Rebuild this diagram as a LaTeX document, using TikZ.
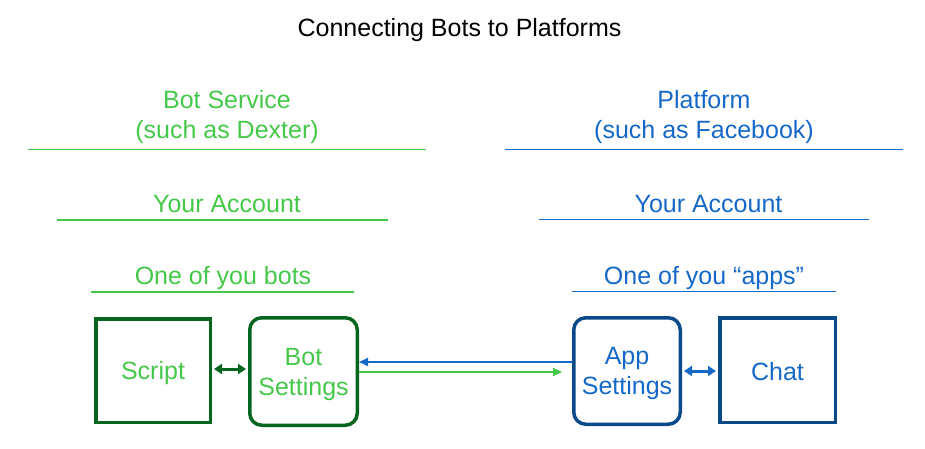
\documentclass[tikz,border=0pt]{standalone}
\usepackage{fontspec}
\setmainfont{Liberation Sans}
\usetikzlibrary{arrows.meta}
\definecolor{lgreen}{HTML}{45C84A}
\definecolor{dgreen}{HTML}{06661F}
\definecolor{lblue}{HTML}{1668C8}
\definecolor{dblue}{HTML}{0B4A88}
\begin{document}
\begin{tikzpicture}[x=1pt,y=-1pt,
  txt/.style={font=\fontsize{25}{30}\selectfont, inner sep=0pt, anchor=base, align=center},
  sqbox/.style={draw, line width=3.5pt, inner sep=0pt, font=\fontsize{25}{30}\selectfont, align=center},
  rbox/.style={sqbox, rounded corners=12pt},
  rule/.style={line width=1.2pt},
  thin/.style={line width=2pt, -{Triangle[length=9pt,width=8pt]}},
  thick/.style={line width=3pt, {Triangle[length=8pt,width=10pt]}-{Triangle[length=8pt,width=10pt]}, shorten <=2pt, shorten >=2pt}
]
\useasboundingbox (0,0) rectangle (925,449);
\node[txt] (title) at (459.5,36.5) {Connecting Bots to Platforms};
% left
\node[txt, text=lgreen] (bs1) at (227,109) {Bot Service};
\node[txt, text=lgreen] (bs2) at (227,139) {(such as Dexter)};
\node[txt, text=lgreen] (ya1) at (227,212.5) {Your Account};
\node[txt, text=lgreen] (ob1) at (223,284) {One of you bots};
\draw[rule, lgreen] (28,149.3) -- (426,149.3);
\draw[rule, lgreen] (57,220) -- (388,220);
\draw[rule, lgreen] (91,292) -- (354,292);
% right
\node[txt, text=lblue] (pf1) at (704,109) {Platform};
\node[txt, text=lblue] (pf2) at (704,139) {(such as Facebook)};
\node[txt, text=lblue] (ya2) at (708.5,212) {Your Account};
\node[txt, text=lblue] (ob2) at (704,284) {One of you “apps”};
\draw[rule, lblue] (505,149.3) -- (903,149.3);
\draw[rule, lblue] (539,219.5) -- (869,219.5);
\draw[rule, lblue] (572,291.5) -- (836,291.5);
% boxes
\node[sqbox, draw=dgreen, text=lgreen, minimum width=114.5pt, minimum height=103.5pt] (script) at (153,370.5) {\rule{0pt}{24pt}Script};
\node[rbox, draw=dgreen, text=lgreen, minimum width=107.5pt, minimum height=107.5pt] (bot) at (303.5,371.5) {\rule{0pt}{24pt}Bot\\Settings};
\node[rbox, draw=dblue, text=lblue, minimum width=106.5pt, minimum height=106.5pt] (app) at (627,371) {\rule{0pt}{22pt}App\\Settings};
\node[sqbox, draw=dblue, text=lblue, minimum width=115.5pt, minimum height=104.5pt] (chat) at (777.5,370) {\rule{0pt}{22pt}Chat};
% connectors
\draw[thick, dgreen] (script.east |- 0,369) -- (bot.west |- 0,369);
\draw[thick, lblue] (app.east |- 0,371) -- (chat.west |- 0,371);
\draw[thin, lblue] (app.west |- 0,362) -- (bot.east |- 0,362);
\draw[thin, lgreen, shorten >=10pt] (bot.east |- 0,372) -- (app.west |- 0,372);
\end{tikzpicture}
\end{document}
